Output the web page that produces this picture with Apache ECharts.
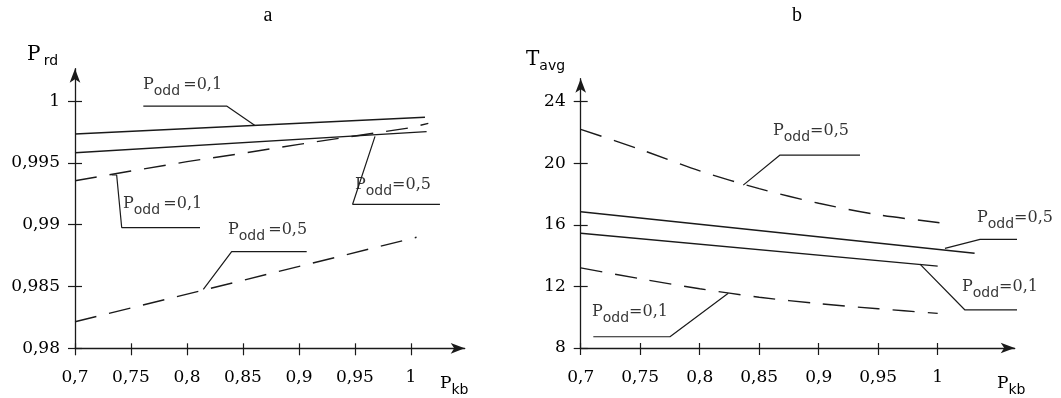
<!DOCTYPE html>
<html lang="en">
<head>
<meta charset="UTF-8">
<title>P_rd and T_avg vs P_kb</title>
<script src="https://cdn.jsdelivr.net/npm/echarts@6/dist/echarts.min.js"></script>
<style>
html, body { margin: 0; padding: 0; background: #fff; }
#main { width: 1061px; height: 398px; }
</style>
</head>
<body>
<div id="main"></div>
<script>
// tick labels
var xTicks = [0.7, 0.75, 0.8, 0.85, 0.9, 0.95, 1];
var yTicksA = [0.98, 0.985, 0.99, 0.995, 1];
var yTicksB = [8, 12, 16, 20, 24];

// chart a: P_rd
var aSolidTopX = [0.7, 1.0125];
var aSolidTopY = [0.99734, 0.99869];
var aSolidMidX = [0.7, 1.014];
var aSolidMidY = [0.99582, 0.99753];
var aDashUpX = [0.7, 0.75, 0.8, 0.85, 0.9, 0.95, 1.0, 1.0155];
var aDashUpY = [0.99356, 0.99434, 0.99510, 0.99578, 0.99650, 0.99718, 0.99785, 0.99820];
var aDashLowX = [0.7, 0.85, 1.005];
var aDashLowY = [0.98215, 0.98550, 0.98898];

// chart a: callouts
var aLeadX = [[0.761, 0.8354, 0.8607], [0.7328, 0.7372, 0.7417, 0.8116], [0.8146, 0.8399, 0.9069], [0.9679, 0.9479, 1.0259]];
var aLeadY = [[0.9996, 0.9996, 0.99803], [0.99402, 0.99402, 0.98977, 0.98977], [0.98477, 0.98782, 0.98782], [0.99714, 0.99165, 0.99165]];
var aTextX = [0.7607, 0.7429, 0.8366, 0.95];
var aTextY = [1.0013, 0.99167, 0.98957, 0.99321];
var aText = ['\u2009=0,1', '\u2009=0,1', '\u2009=0,5', '=0,5'];

// chart b: T_avg
var bDashTopX = [0.7, 0.75, 0.8, 0.85, 0.9, 0.95, 1.0, 1.012];
var bDashTopY = [22.2, 20.9, 19.5, 18.35, 17.4, 16.65, 16.15, 16.0];
var bSolidTopX = [0.7, 1.031];
var bSolidTopY = [16.85, 14.15];
var bSolidBotX = [0.7, 1.0];
var bSolidBotY = [15.45, 13.32];
var bDashBotX = [0.7, 0.75, 0.8, 0.85, 0.9, 0.95, 1.0];
var bDashBotY = [13.2, 12.5, 11.85, 11.3, 10.88, 10.55, 10.25];

// chart b: callouts
var bLeadX = [[0.8366, 0.8675, 0.9347], [1.0061, 1.0356, 1.1013], [0.9851, 1.0229, 1.0916], [0.824, 0.775, 0.7106]];
var bLeadY = [[18.58, 20.53, 20.53], [14.47, 15.06, 15.06], [13.45, 10.47, 10.47], [11.55, 8.73, 8.73]];
var bTextX = [0.8616, 1.033, 1.0204, 0.7095];
var bTextY = [22.09, 16.44, 11.96, 10.34];
var bText = ['=0,5', '=0,5', '=0,1', '=0,1'];

var ink = '#1a1a1a';
var txt = '#000';
var serif = 'DejaVu Serif';
var sans = 'DejaVu Sans';

function pairs(xs, ys) {
    return xs.map(function (x, i) { return [x, ys[i]]; });
}
function comma(v) {
    return String(v).replace('.', ',');
}

function curve(axis, xs, ys, dashed, smooth) {
    return {
        type: 'line', xAxisIndex: axis, yAxisIndex: axis,
        data: pairs(xs, ys), symbol: 'none', smooth: smooth || false,
        clip: false, silent: true,
        lineStyle: { color: ink, width: 1.4, type: dashed ? [22, 13] : 'solid' }
    };
}

function leaders(axis, lx, ly) {
    return lx.map(function (xs, i) {
        return {
            type: 'line', xAxisIndex: axis, yAxisIndex: axis,
            data: pairs(xs, ly[i]), symbol: 'none', clip: false, silent: true,
            lineStyle: { color: ink, width: 1.2 }
        };
    });
}

var labelRich = {
    m: { fontFamily: serif, fontSize: 16, color: txt, lineHeight: 26 },
    s: { fontFamily: sans, fontSize: 14, color: txt, lineHeight: 12, verticalAlign: 'bottom' }
};

function callouts(axis, tx, ty, texts) {
    return {
        type: 'scatter', xAxisIndex: axis, yAxisIndex: axis,
        symbolSize: 0, clip: false, silent: true,
        itemStyle: { color: 'rgba(0,0,0,0)' },
        data: tx.map(function (x, i) { return { name: texts[i], value: [x, ty[i]] }; }),
        label: {
            show: true, position: 'right', distance: 0,
            formatter: function (p) { return '{m|P}{s|odd}{m|' + p.name + '}'; },
            rich: labelRich
        }
    };
}

function xAxes(grid, max) {
    return [{
        gridIndex: grid, type: 'value', position: 'bottom', min: 0.7, max: max,
        axisLine: { show: true, onZero: false, symbol: ['none', 'arrow'], symbolSize: [8, 14],
            lineStyle: { color: ink, width: 1.3 } },
        axisTick: { show: true, length: 7, customValues: xTicks, lineStyle: { color: ink, width: 1.2 } },
        axisLabel: { show: true, customValues: xTicks, margin: 21, formatter: comma,
            fontFamily: serif, fontSize: 17, color: txt },
        splitLine: { show: false }
    }, {
        gridIndex: grid, type: 'value', position: 'bottom', offset: 0, min: 0.7, max: max,
        axisLine: { show: false, onZero: false },
        axisTick: { show: true, inside: true, length: 5, customValues: xTicks, lineStyle: { color: ink, width: 1.2 } },
        axisLabel: { show: false },
        splitLine: { show: false }
    }];
}

function yAxes(grid, min, max, ticks) {
    return [{
        gridIndex: grid, type: 'value', position: 'left', min: min, max: max,
        axisLine: { show: true, onZero: false, symbol: ['none', 'arrow'], symbolSize: [8, 14],
            lineStyle: { color: ink, width: 1.3 } },
        axisTick: { show: true, length: 7, customValues: ticks, lineStyle: { color: ink, width: 1.2 } },
        axisLabel: { show: true, customValues: ticks, margin: 15, formatter: comma,
            fontFamily: serif, fontSize: 17, color: txt },
        splitLine: { show: false }
    }, {
        gridIndex: grid, type: 'value', position: 'left', offset: 0, min: min, max: max,
        axisLine: { show: false, onZero: false },
        axisTick: { show: true, inside: true, length: 7, customValues: ticks, lineStyle: { color: ink, width: 1.2 } },
        axisLabel: { show: false },
        splitLine: { show: false }
    }];
}

function nameText(x, y, main, sub, mainSize, gap) {
    return {
        type: 'text', x: x, y: y, silent: true,
        style: {
            text: '{m|' + main + '}' + (gap ? ' ' : '') + '{s|' + sub + '}',
            align: 'left', verticalAlign: 'middle', textAlign: 'left', textVerticalAlign: 'middle',
            rich: {
                m: { fontFamily: serif, fontSize: mainSize, fill: txt, lineHeight: 26 },
                s: { fontFamily: sans, fontSize: 14, fill: txt, lineHeight: 12, verticalAlign: 'bottom' }
            }
        }
    };
}

function titleText(x, t) {
    return {
        type: 'text', x: x, y: 16, silent: true,
        style: { text: t, font: '20px "Liberation Serif"', fontFamily: 'Liberation Serif', fontSize: 20, fill: txt,
            align: 'center', verticalAlign: 'middle', textAlign: 'center', textVerticalAlign: 'middle' }
    };
}

var series = [
    curve(0, aSolidTopX, aSolidTopY, false),
    curve(0, aSolidMidX, aSolidMidY, false),
    curve(0, aDashUpX, aDashUpY, true),
    curve(0, aDashLowX, aDashLowY, true),
    callouts(0, aTextX, aTextY, aText),
    curve(2, bDashTopX, bDashTopY, true, 0.3),
    curve(2, bSolidTopX, bSolidTopY, false),
    curve(2, bSolidBotX, bSolidBotY, false),
    curve(2, bDashBotX, bDashBotY, true, 0.3),
    callouts(2, bTextX, bTextY, bText)
].concat(leaders(0, aLeadX, aLeadY), leaders(2, bLeadX, bLeadY));

var myChart = echarts.init(document.getElementById('main'));
myChart.setOption({
    animation: false,
    backgroundColor: '#fff',
    grid: [
        { left: 75, top: 68.7, width: 389.7, height: 279.6, outerBoundsMode: 'none' },
        { left: 580.7, top: 78.7, width: 434, height: 269.3, outerBoundsMode: 'none' }
    ],
    xAxis: xAxes(0, 1.048).concat(xAxes(1, 1.0647)),
    yAxis: yAxes(0, 0.98, 1.00262, yTicksA).concat(yAxes(1, 8, 25.49, yTicksB)),
    graphic: [
        titleText(268, 'a'),
        titleText(797, 'b'),
        nameText(27, 55, 'P', 'rd', 20, true),
        nameText(526, 60, 'T', 'avg', 20, false),
        nameText(440, 384, 'P', 'kb', 17, false),
        nameText(997, 384, 'P', 'kb', 17, false)
    ],
    series: series
});
</script>
</body>
</html>
